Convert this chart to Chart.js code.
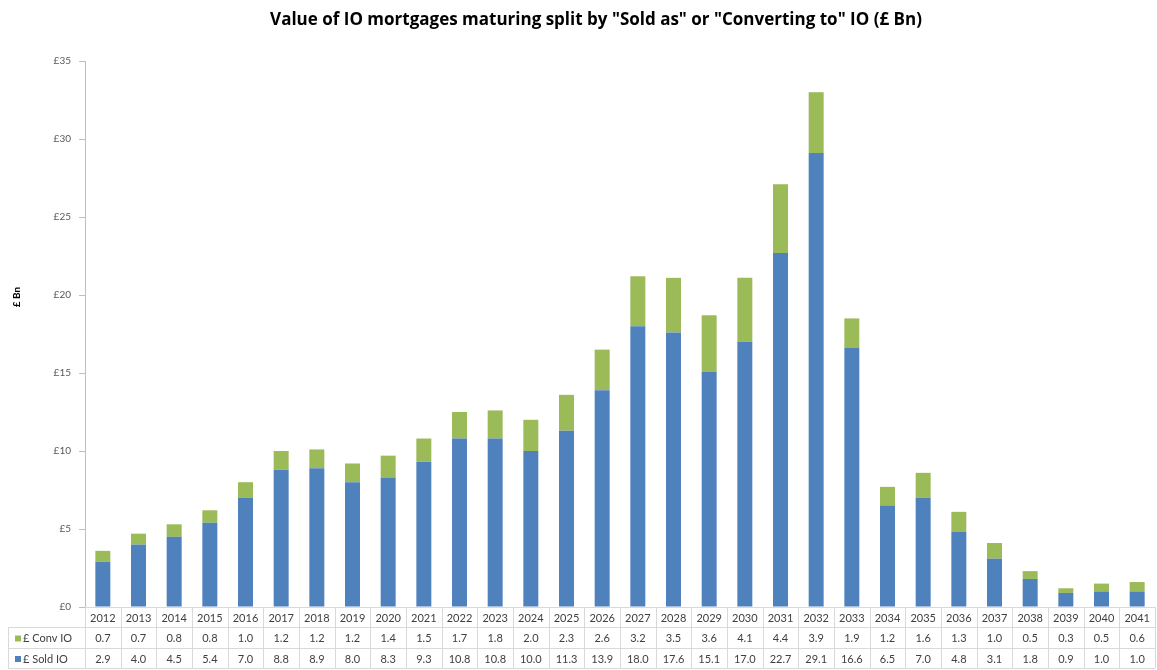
<!DOCTYPE html>
<html lang="en">
  <head>
    <meta charset="UTF-8" />
    <style>
      html, body { margin: 0; padding: 0; background: #fff; }
      #wrap { width: 1157px; height: 670px; }
    </style>
  </head>
  <body>
    <div id="wrap"><canvas id="myChart" width="1157" height="670"></canvas></div>
    <script src="https://cdn.jsdelivr.net/npm/chart.js@4.4.1/dist/chart.umd.min.js"></script>
    <script>
      var years = ["2012", "2013", "2014", "2015", "2016", "2017", "2018", "2019", "2020", "2021",
        "2022", "2023", "2024", "2025", "2026", "2027", "2028", "2029", "2030", "2031",
        "2032", "2033", "2034", "2035", "2036", "2037", "2038", "2039", "2040", "2041"];
      var convIO = [0.7, 0.7, 0.8, 0.8, 1.0, 1.2, 1.2, 1.2, 1.4, 1.5,
        1.7, 1.8, 2.0, 2.3, 2.6, 3.2, 3.5, 3.6, 4.1, 4.4,
        3.9, 1.9, 1.2, 1.6, 1.3, 1.0, 0.5, 0.3, 0.5, 0.6];
      var soldIO = [2.9, 4.0, 4.5, 5.4, 7.0, 8.8, 8.9, 8.0, 8.3, 9.3,
        10.8, 10.8, 10.0, 11.3, 13.9, 18.0, 17.6, 15.1, 17.0, 22.7,
        29.1, 16.6, 6.5, 7.0, 4.8, 3.1, 1.8, 0.9, 1.0, 1.0];
      var seriesNames = ["£ Conv IO", "£ Sold IO"];
      var titleText = 'Value of IO mortgages maturing split by "Sold as" or "Converting to" IO (£ Bn)';

      var blue = "#4f81bd";
      var green = "#9bbb59";
      var font = "Lato, 'Open Sans', sans-serif";

      // data table under the bars, Excel style, plus the titles
      var tablePlugin = {
        id: "dataTable",
        afterDraw: function (chart) {
          var c = chart.ctx;
          var x = chart.scales.x;
          var top = chart.chartArea.bottom;
          var left = chart.chartArea.left;
          var right = chart.chartArea.right;
          var rowH = [20, 21, 20];
          var r1 = top + rowH[0], r2 = r1 + rowH[1], r3 = r2 + rowH[2];
          var half = (x.getPixelForValue(1) - x.getPixelForValue(0)) / 2;
          var keyLeft = 8;

          c.save();
          c.strokeStyle = "#d9d9d9";
          c.lineWidth = 1;
          c.beginPath();
          c.moveTo(left, top + 0.5); c.lineTo(right, top + 0.5);
          c.moveTo(keyLeft, r1 + 0.5); c.lineTo(right, r1 + 0.5);
          c.moveTo(keyLeft, r2 + 0.5); c.lineTo(right, r2 + 0.5);
          c.moveTo(keyLeft, r3 + 0.5); c.lineTo(right, r3 + 0.5);
          c.moveTo(keyLeft + 0.5, r1); c.lineTo(keyLeft + 0.5, r3);
          for (var i = 0; i <= years.length; i++) {
            var px = Math.round(x.getPixelForValue(i) - half) + 0.5;
            c.moveTo(px, top); c.lineTo(px, r3);
          }
          c.stroke();

          c.font = "11px " + font;
          c.fillStyle = "#404040";
          c.textAlign = "center";
          c.textBaseline = "middle";
          for (var j = 0; j < years.length; j++) {
            var cx = x.getPixelForValue(j);
            c.fillText(years[j], cx, (top + r1) / 2 + 1);
            c.fillText(convIO[j].toFixed(1), cx, (r1 + r2) / 2 + 1);
            c.fillText(soldIO[j].toFixed(1), cx, (r2 + r3) / 2 + 1);
          }

          c.textAlign = "left";
          c.fillStyle = green;
          c.fillRect(15, (r1 + r2) / 2 - 2, 6, 6);
          c.fillStyle = blue;
          c.fillRect(15, (r2 + r3) / 2 - 2, 6, 6);
          c.fillStyle = "#404040";
          c.fillText(seriesNames[0], 23, (r1 + r2) / 2 + 1);
          c.fillText(seriesNames[1], 23, (r2 + r3) / 2 + 1);

          // chart title, centred a bit right of the page middle like the original
          c.textAlign = "center";
          c.fillStyle = "#000";
          c.font = "bold 17px 'Open Sans', sans-serif";
          c.fillText(titleText, 596, 20);

          // y axis title, sits a little above the middle as in the original
          c.translate(17, 297);
          c.rotate(-Math.PI / 2);
          c.font = "bold 10px " + font;
          c.fillText("£ Bn", 0, 0);
          c.restore();
        },
      };

      var ctx = document.getElementById("myChart").getContext("2d");
      var chart = new Chart(ctx, {
        type: "bar",
        data: {
          labels: years,
          datasets: [
            { label: seriesNames[1], data: soldIO, backgroundColor: blue, stack: "a" },
            { label: seriesNames[0], data: convIO, backgroundColor: green, stack: "a" },
          ],
        },
        options: {
          responsive: false,
          animation: false,
          layout: { padding: { left: 0, right: 2, top: 61, bottom: 63 } },
          datasets: { bar: { barPercentage: 0.42, categoryPercentage: 1 } },
          plugins: {
            legend: { display: false },
            tooltip: { enabled: false },
            title: { display: false },
          },
          scales: {
            x: { stacked: true, display: false },
            y: {
              stacked: true,
              min: 0,
              max: 35,
              border: { color: "#bfbfbf" },
              grid: { drawOnChartArea: false, color: "#bfbfbf", tickLength: 6 },
              ticks: {
                stepSize: 5,
                color: "#595959",
                font: { family: font, size: 10 },
                padding: 8,
                callback: function (v) { return "£" + v; },
              },
              afterFit: function (s) { s.width = 85; },
            },
          },
        },
        plugins: [tablePlugin],
      });
    </script>
  </body>
</html>
